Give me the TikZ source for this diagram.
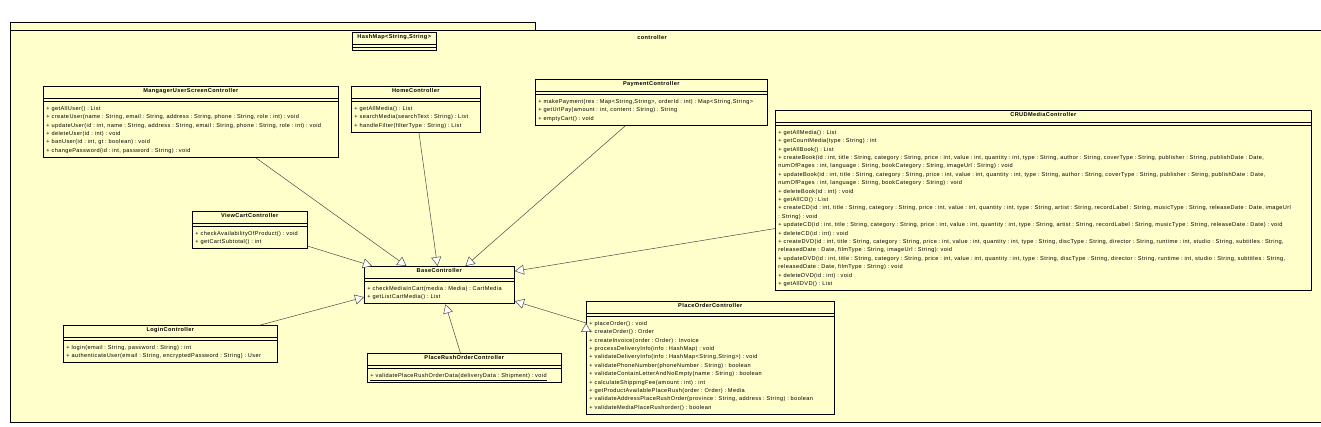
\documentclass[tikz,border=0pt]{standalone}
\usepackage{fontspec}
\setmainfont{Liberation Sans}[LetterSpace=7]
\usetikzlibrary{arrows.meta,shapes.multipart}

\definecolor{umlfill}{HTML}{FFFFCC}
\definecolor{umlline}{HTML}{4A4A4A}

\newcommand{\clsname}[1]{{\centering\rule[-4pt]{0pt}{9pt}\textbf{#1}\par}}
\newcommand{\fst}{\rule{0pt}{7.5pt}}
\newcommand{\lst}{\rule[-3.8pt]{0pt}{0pt}}

\begin{document}
\frenchspacing
\begin{tikzpicture}[x=1pt,y=-1pt,
  umlclass/.style={draw=black,fill=umlfill,line width=0.9pt,rectangle split,
    rectangle split parts=3,rectangle split empty part height=1pt,
    inner xsep=3pt,inner ysep=1pt,anchor=north west,align=left,
    font=\fontsize{5.6}{8.4}\selectfont},
  extends/.style={draw=umlline,line width=0.5pt,
    -{Triangle[length=9pt,width=10pt,fill=white]}}]

\useasboundingbox (0,0) rectangle (1321,426);

% package controller
\draw[fill=umlfill,line width=0.9pt] (10,22) rectangle (535,30);
\draw[fill=umlfill,line width=0.9pt] (10,30) rectangle (1335,422);
\node[font=\fontsize{5.6}{6}\selectfont\bfseries] (pkg) at (652,37) {controller};

\node[umlclass,text width=78pt,rectangle split empty part height=3pt] (hashmap) at (352,32)
  {\clsname{HashMap<String,String>}\nodepart{two}\nodepart{three}};

\node[umlclass,text width=289pt] (mgr) at (43,86)
  {\clsname{MangagerUserScreenController}\nodepart{two}\nodepart{three}
   \fst+ getAllUser() : List\\
   + createUser(name : String, email : String, address : String, phone : String, role : int) : void\\
   + updateUser(id : int, name : String, address : String, email : String, phone : String, role : int) : void\\
   + deleteUser(id : int) : void\\
   + banUser(id : int, gt : boolean) : void\\
   + changePassword(id : int, password : String) : void\lst};

\node[umlclass,text width=123pt] (home) at (351,86)
  {\clsname{HomeController}\nodepart{two}\nodepart{three}
   \fst+ getAllMedia() : List\\
   + searchMedia(searchText : String) : List\\
   + handleFilter(filterType : String) : List\lst};

\node[umlclass,text width=226pt] (pay) at (535,79)
  {\clsname{PaymentController}\nodepart{two}\nodepart{three}
   \fst+ makePayment(res : Map<String,String>, orderId : int) : Map<String,String>\\
   + getUrlPay(amount : int, content : String) : String\\
   + emptyCart() : void\lst};

\node[umlclass,text width=530pt] (crud) at (775,110)
  {\clsname{CRUDMediaController}\nodepart{two}\nodepart{three}
   \fst+ getAllMedia() : List\\
   + getCountMedia(type : String) : int\\
   + getAllBook() : List\\
   + createBook(id : int, title : String, category : String, price : int, value : int, quantity : int, type : String, author : String, coverType : String, publisher : String, publishDate : Date,\\
   numOfPages : int, language : String, bookCategory : String, imageUrl : String) : void\\
   + updateBook(id : int, title : String, category : String, price : int, value : int, quantity : int, type : String, author : String, coverType : String, publisher : String, publishDate : Date,\\
   numOfPages : int, language : String, bookCategory : String) : void\\
   + deleteBook(id : int) : void\\
   + getAllCD() : List\\
   + createCD(id : int, title : String, category : String, price : int, value : int, quantity : int, type : String, artist : String, recordLabel : String, musicType : String, releaseDate : Date, imageUrl\\
   : String) : void\\
   + updateCD(id : int, title : String, category : String, price : int, value : int, quantity : int, type : String, artist : String, recordLabel : String, musicType : String, releaseDate : Date) : void\\
   + deleteCD(id : int) : void\\
   + createDVD(id : int, title : String, category : String, price : int, value : int, quantity : int, type : String, discType : String, director : String, runtime : int, studio : String, subtitles : String,\\
   releasedDate : Date, filmType : String, imageUrl : String): void\\
   + updateDVD(id : int, title : String, category : String, price : int, value : int, quantity : int, type : String, discType : String, director : String, runtime : int, studio : String, subtitles : String,\\
   releasedDate : Date, filmType : String) : void\\
   + deleteDVD(id : int) : void\\
   + getAllDVD() : List\lst};

\node[umlclass,text width=109pt] (view) at (192,211)
  {\clsname{ViewCartController}\nodepart{two}\nodepart{three}
   \fst+ checkAvailabilityOfProduct() : void\\
   + getCartSubtotal() : int\lst};

\node[umlclass,text width=144pt] (base) at (364,266)
  {\clsname{BaseController}\nodepart{two}\nodepart{three}
   \fst+ checkMediaInCart(media : Media) : CartMedia\\
   + getListCartMedia() : List\lst};

\node[umlclass,text width=208pt] (login) at (63,325)
  {\clsname{LoginController}\nodepart{two}\nodepart{three}
   \fst+ login(email : String, password : String) : int\\
   + authenticateUser(email : String, encryptedPassword : String) : User\lst};

\node[umlclass,text width=188pt] (rush) at (367,353)
  {\clsname{PlaceRushOrderController}\nodepart{two}\nodepart{three}
   \fst\underline{+ validatePlaceRushOrderData(deliveryData : Shipment) : void}\lst};

\node[umlclass,text width=242pt] (order) at (586,301)
  {\clsname{PlaceOrderController}\nodepart{two}\nodepart{three}
   \fst+ placeOrder() : void\\
   + createOrder() : Order\\
   + createInvoice(order : Order) : Invoice\\
   + processDeliveryInfo(info : HashMap) : void\\
   + validateDeliveryInfo(info : HashMap<String,String>) : void\\
   + validatePhoneNumber(phoneNumber : String) : boolean\\
   + validateContainLetterAndNoEmpty(name : String) : boolean\\
   + calculateShippingFee(amount : int) : int\\
   + getProductAvailablePlaceRush(order : Order) : Media\\
   + validateAddressPlaceRushOrder(province : String, address : String) : boolean\\
   + validateMediaPlaceRushorder() : boolean\lst};

% generalizations
\path[extends]
  ([xshift=65pt]mgr.south) edge ([xshift=-33pt]base.north)
  ([xshift=3pt]home.south) edge ([xshift=-2pt]base.north)
  ([xshift=-26pt]pay.south) edge ([xshift=26pt]base.north)
  ([yshift=-28pt]crud.west) edge ([yshift=14pt]base.east)
  ([yshift=-16pt]view.east) edge ([xshift=8pt]base.north west)
  ([xshift=90pt]login.north) edge ([yshift=-12pt]base.west)
  ([xshift=-4pt]rush.north) edge ([xshift=6pt]base.south)
  ([yshift=35pt]order.west) edge ([yshift=-16pt]base.east);

\end{tikzpicture}
\end{document}
